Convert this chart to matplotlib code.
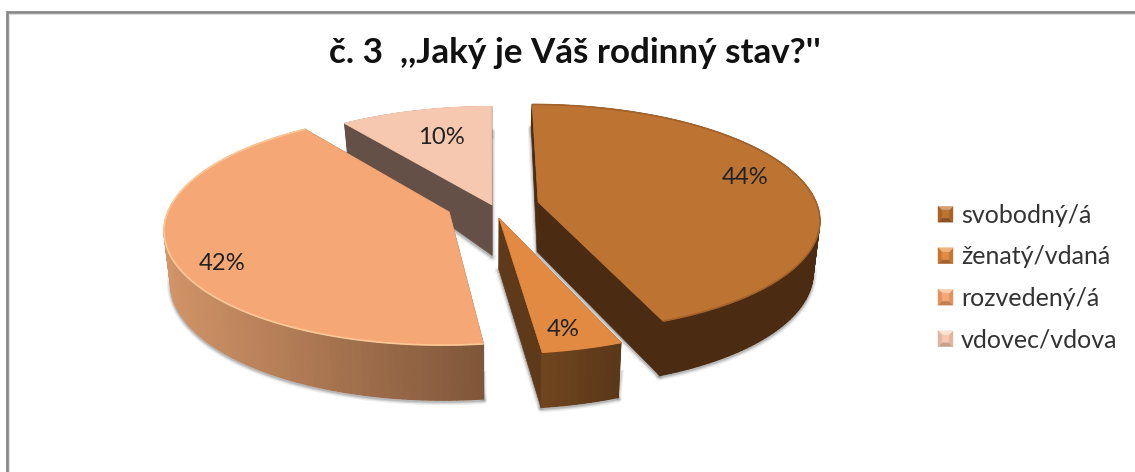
import numpy as np
import matplotlib
matplotlib.use("Agg")
import matplotlib.pyplot as plt
from matplotlib.patches import Polygon, Patch
from matplotlib.collections import PolyCollection
from matplotlib.legend_handler import HandlerBase
from matplotlib.colors import to_rgb

TITLE = "č. 3  ,,Jaký je Váš rodinný stav?''"
categories = ["svobodný/á", "ženatý/vdaná", "rozvedený/á", "vdovec/vdova"]
values = [44, 4, 42, 10]

# Styles and layout
explode = [(0.173, 0.053), (0.032, -0.088), (-0.145, -0.035), (0.007, 0.027)]
top_col = ["#BD7432", "#E28A42", "#F5A876", "#F7C8B0"]
rim_col = ["#A3622A", "#E28A42", "#FBC898", "#F7C8B0"]
face_col = ["#4B2C13", "#5E3A1A", "#8A5C3E", "#655047"]
wall_l = ["#4B2C13", "#70461F", "#D29468", "#655047"]
wall_r = ["#4B2C13", "#5A3718", "#7F5639", "#655047"]
leg_col = [("#BD7432", "#8A5223", "#D9A070"), ("#E28A42", "#A66227", "#F0B47A"),
           ("#F5A876", "#C47F50", "#FAD0AC"), ("#F7C8B0", "#C9A08C", "#FBE2D4")]
label_xy = [(745, 177), (563, 329), (222, 263), (441, 137)]
draw_order = [3, 0, 2, 1]

VX, VY, A, B, K = 490.0, 208.0, 280.0, 113.0, 0.142
TXT = "#222222"
FONT = "Lato"

fig = plt.figure(figsize=(11.35, 4.72), dpi=100, facecolor="white")
ax = fig.add_axes([0, 0, 1, 1])
ax.set_xlim(0, 1135)
ax.set_ylim(472, 0)
ax.axis("off")


def top(X, Y):
    w = 1 + K * Y
    return VX + A * X / w, VY - B * Y / w


def bottom(X, Y):
    px, py = top(X, Y)
    depth = np.where(Y < 0, 51 - 4 * Y, 51 - 26 * Y)
    return VX + (px - VX) * 0.98, py + depth


def mix(c1, c2, f):
    a, b = np.array(to_rgb(c1)), np.array(to_rgb(c2))
    return tuple(a + (b - a) * f)


edges = 360 * np.concatenate([[0], np.cumsum(values)]) / np.sum(values)

z = 2
for i in draw_order:
    X0, Y0 = explode[i]
    th = np.radians(np.linspace(edges[i], edges[i + 1], max(8, int(values[i] * 3))))
    X = X0 + np.sin(th)
    Y = Y0 + np.cos(th)
    tx, ty = top(X, Y)
    bx, by = bottom(X, Y)
    ax0, ay0 = top(np.array(X0), np.array(Y0))
    bx0, by0 = bottom(np.array(X0), np.array(Y0))

    # soft shadow around the walls
    sx = np.r_[bx0, bx, bx0]
    sy = np.r_[by0, by, by0] + 1.5
    for lw, al in [(5, 0.10), (3, 0.16), (1.5, 0.22)]:
        ax.plot(sx, sy, color="#555555", lw=lw, alpha=al, solid_joinstyle="round", zorder=z)
    for e in (0, -1):
        for lw, al in [(4, 0.10), (2, 0.16)]:
            ax.plot([tx[e], bx[e]], [ty[e] + 30, by[e]], color="#555555", lw=lw, alpha=al, zorder=z)
    z += 1

    # cut faces
    for e in (0, -1):
        ax.add_patch(Polygon([(ax0, ay0), (tx[e], ty[e]), (bx[e], by[e]), (bx0, by0)],
                             closed=True, fc=face_col[i], ec=face_col[i], lw=0.5, zorder=z))
    z += 1

    # outer wall with gradient over a solid base
    base = np.r_[np.c_[tx, ty], np.c_[bx, by][::-1]]
    ax.add_patch(Polygon(base, closed=True, fc=mix(wall_l[i], wall_r[i], 0.5), ec="none", zorder=z))
    z += 1
    polys, cols = [], []
    span = max(tx.max() - tx.min(), 1)
    for j in range(len(th) - 1):
        polys.append([(tx[j], ty[j]), (tx[j + 1], ty[j + 1]), (bx[j + 1], by[j + 1]), (bx[j], by[j])])
        cols.append(mix(wall_l[i], wall_r[i], (0.5 * (tx[j] + tx[j + 1]) - tx.min()) / span))
    ax.add_collection(PolyCollection(polys, facecolors=cols, edgecolors=cols, linewidths=0.8, zorder=z))
    z += 1

    # top surface
    ax.add_patch(Polygon(np.c_[np.r_[ax0, tx], np.r_[ay0, ty]], closed=True,
                         fc=top_col[i], ec=top_col[i], lw=0.5, zorder=z))
    z += 1
    ax.plot(tx, ty, color=rim_col[i], lw=1.2, solid_capstyle="butt", zorder=z)
    z += 1

for v, (lx, ly) in zip(values, label_xy):
    ax.text(lx, ly, f"{v}%", ha="center", va="center", fontsize=17.2, color=TXT,
            family=FONT, zorder=100)

ax.text(575, 53, TITLE, ha="center", va="center", fontsize=25.2, fontweight="bold",
        color="#111111", family=FONT, zorder=100)

# chart frame (left and top edges only are visible)
ax.plot([7, 7, 1135], [472, 12, 12], color="#8A8A8A", lw=2.0, solid_joinstyle="miter", zorder=1)
ax.plot([9, 9, 1135], [472, 14, 14], color="#E2E2E2", lw=0.8, zorder=1)


class BevelHandler(HandlerBase):
    def create_artists(self, legend, orig, xd, yd, w, h, fs, trans):
        fc, dark, light = orig.bevel
        x0, y0 = -xd, -yd
        m = 3.0
        o = [(x0, y0), (x0 + w, y0), (x0 + w, y0 + h), (x0, y0 + h)]
        n = [(x0 + m, y0 + m), (x0 + w - m, y0 + m), (x0 + w - m, y0 + h - m), (x0 + m, y0 + h - m)]
        out = []
        sides = [(0, 1, dark), (1, 2, mix(fc, dark, 0.5)), (2, 3, light), (3, 0, mix(fc, dark, 0.5))]
        for a, b, c in sides:
            out.append(Polygon([o[a], o[b], n[b], n[a]], closed=True, fc=c, ec=c, lw=0.3, transform=trans))
        out.append(Polygon(n, closed=True, fc=fc, ec=fc, lw=0.3, transform=trans))
        return out


handles = []
for name, bev in zip(categories, leg_col):
    p = Patch(label=name)
    p.bevel = bev
    handles.append(p)

leg = ax.legend(handles=handles, handler_map={Patch: BevelHandler()}, loc="upper left",
                bbox_to_anchor=(938, 204), bbox_transform=ax.transData, frameon=False,
                prop={"family": FONT, "size": 18}, labelcolor="#333333",
                borderpad=0, borderaxespad=0, handlelength=0.6, handleheight=0.6,
                handletextpad=0.32, labelspacing=0.74)
leg.set_zorder(100)

fig.savefig("out.png", dpi=100, facecolor="white")
